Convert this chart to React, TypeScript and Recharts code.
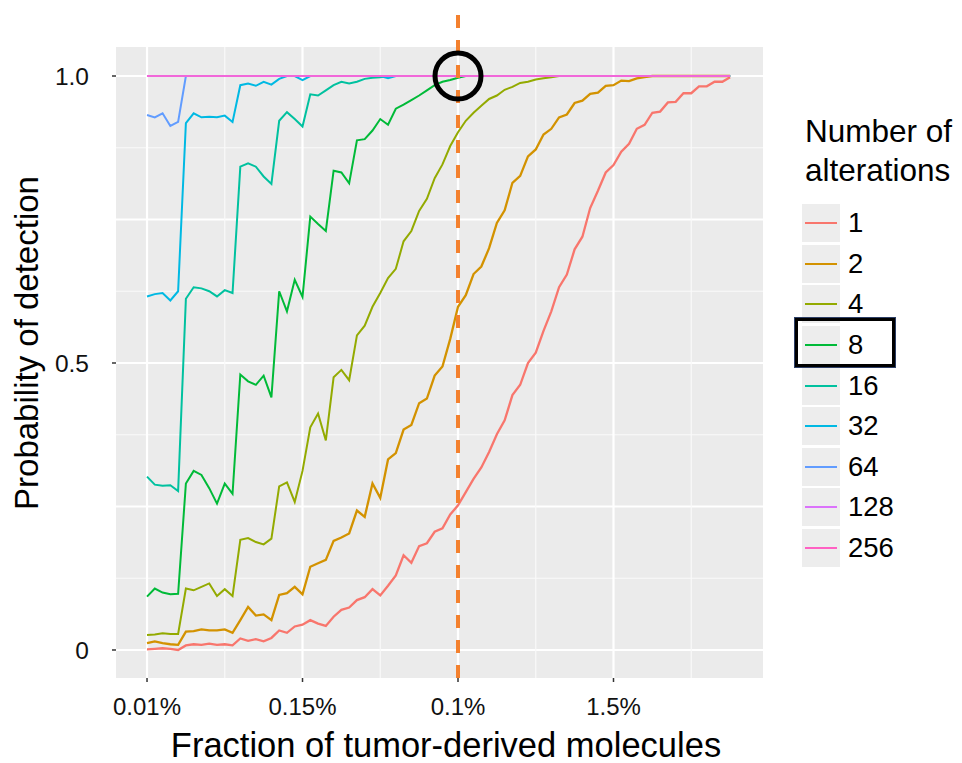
import {
  LineChart,
  Line,
  XAxis,
  YAxis,
  ReferenceLine,
  ReferenceArea,
  ReferenceDot,
} from "recharts";

const FONT = "'Liberation Sans', Arial, Helvetica, sans-serif";

// number of alterations per series, in legend order
const alterations = ["1", "2", "4", "8", "16", "32", "64", "128", "256"];
const palette = ["#F8766D", "#D39200", "#93AA00", "#00BA38", "#00C19F", "#00B9E3", "#619CFF", "#DB72FB", "#FF61C3"];

// x axis: dilution steps, labelled every 20 steps
const xTickSteps = [0, 20, 40, 60];
const xTickLabels = ["0.01%", "0.15%", "0.1%", "1.5%"];
const thresholdStep = 40;

const yTicks = [0, 0.5, 1];
const yTickLabels = ["0", "0.5", "1.0"];

// probability of detection at each step (76 steps)
const p1 = [
  0.001, 0.002, 0.003, 0.002, 0.0, 0.008, 0.01, 0.009, 0.011, 0.009,
  0.01, 0.008, 0.02, 0.016, 0.019, 0.015, 0.021, 0.034, 0.03, 0.041,
  0.044, 0.052, 0.046, 0.042, 0.058, 0.07, 0.074, 0.087, 0.092, 0.106,
  0.095, 0.112, 0.13, 0.165, 0.152, 0.181, 0.186, 0.206, 0.212, 0.236,
  0.252, 0.275, 0.298, 0.318, 0.345, 0.376, 0.4, 0.444, 0.462, 0.5,
  0.518, 0.556, 0.59, 0.632, 0.654, 0.698, 0.72, 0.77, 0.8, 0.832,
  0.845, 0.868, 0.882, 0.908, 0.915, 0.936, 0.938, 0.954, 0.955, 0.97,
  0.97, 0.982, 0.982, 0.99, 0.99, 0.998,
];
const p2 = [
  0.012, 0.015, 0.012, 0.01, 0.009, 0.032, 0.033, 0.036, 0.034, 0.034,
  0.036, 0.03, 0.052, 0.075, 0.06, 0.062, 0.052, 0.096, 0.099, 0.11,
  0.097, 0.145, 0.151, 0.157, 0.19, 0.196, 0.203, 0.243, 0.232, 0.29,
  0.265, 0.332, 0.343, 0.384, 0.392, 0.43, 0.438, 0.478, 0.494, 0.542,
  0.598, 0.618, 0.655, 0.668, 0.7, 0.744, 0.766, 0.814, 0.826, 0.86,
  0.872, 0.898, 0.908, 0.928, 0.933, 0.953, 0.957, 0.969, 0.971, 0.983,
  0.984, 0.992, 0.991, 0.996, 0.998, 1, 1, 1, 1, 1,
  1, 1, 1, 1, 1, 1,
];
const p4 = [
  0.026, 0.027, 0.029, 0.028, 0.028, 0.107, 0.104, 0.11, 0.116, 0.094,
  0.106, 0.094, 0.192, 0.195, 0.188, 0.184, 0.194, 0.285, 0.292, 0.258,
  0.312, 0.388, 0.412, 0.365, 0.475, 0.488, 0.47, 0.548, 0.565, 0.598,
  0.622, 0.648, 0.664, 0.712, 0.73, 0.765, 0.786, 0.822, 0.846, 0.878,
  0.902, 0.922, 0.936, 0.948, 0.96, 0.966, 0.976, 0.981, 0.988, 0.99,
  0.994, 0.996, 0.998, 1, 1, 1, 1, 1, 1, 1,
  1, 1, 1, 1, 1, 1, 1, 1, 1, 1,
  1, 1, 1, 1, 1, 1,
];
const p8 = [
  0.093, 0.107, 0.1, 0.097, 0.098, 0.29, 0.312, 0.305, 0.282, 0.255,
  0.29, 0.272, 0.48, 0.468, 0.462, 0.478, 0.44, 0.625, 0.59, 0.645,
  0.615, 0.755, 0.742, 0.73, 0.835, 0.832, 0.813, 0.888, 0.89, 0.905,
  0.925, 0.915, 0.943, 0.95, 0.958, 0.966, 0.975, 0.984, 0.99, 0.993,
  0.997, 1, 1, 1, 1, 1, 1, 1, 1, 1,
  1, 1, 1, 1, 1, 1, 1, 1, 1, 1,
  1, 1, 1, 1, 1, 1, 1, 1, 1, 1,
  1, 1, 1, 1, 1, 1,
];
const p16 = [
  0.302, 0.288, 0.286, 0.287, 0.277, 0.612, 0.632, 0.63, 0.625, 0.616,
  0.627, 0.622, 0.842, 0.848, 0.842, 0.825, 0.812, 0.922, 0.937, 0.925,
  0.912, 0.968, 0.966, 0.975, 0.984, 0.99, 0.987, 0.99, 0.995, 0.997,
  0.998, 1, 1, 1, 1, 1, 1, 1, 1, 1,
  1, 1, 1, 1, 1, 1, 1, 1, 1, 1,
  1, 1, 1, 1, 1, 1, 1, 1, 1, 1,
  1, 1, 1, 1, 1, 1, 1, 1, 1, 1,
  1, 1, 1, 1, 1, 1,
];
const p32 = [
  0.616, 0.62, 0.622, 0.609, 0.625, 0.918, 0.935, 0.928, 0.929, 0.928,
  0.931, 0.92, 0.984, 0.987, 0.983, 0.99, 0.985, 0.995, 1, 1,
  0.993, 1, 1, 1, 1, 1, 1, 1, 1, 1,
  1, 0.996, 1, 1, 1, 1, 1, 1, 1, 1,
  1, 1, 1, 1, 1, 1, 1, 1, 1, 1,
  1, 1, 1, 1, 1, 1, 1, 1, 1, 1,
  1, 1, 1, 1, 1, 1, 1, 1, 1, 1,
  1, 1, 1, 1, 1, 1,
];
const p64 = [
  0.932, 0.928, 0.935, 0.913, 0.92, 1, 1, 1, 1, 1,
  1, 1, 1, 1, 1, 1, 1, 1, 1, 1,
  1, 1, 1, 1, 1, 1, 1, 1, 1, 1,
  1, 1, 1, 1, 1, 1, 1, 1, 1, 1,
  1, 1, 1, 1, 1, 1, 1, 1, 1, 1,
  1, 1, 1, 1, 1, 1, 1, 1, 1, 1,
  1, 1, 1, 1, 1, 1, 1, 1, 1, 1,
  1, 1, 1, 1, 1, 1,
];
const p128 = [
  1, 1, 1, 1, 1, 1, 1, 1, 1, 1,
  1, 1, 1, 1, 1, 1, 1, 1, 1, 1,
  1, 1, 1, 1, 1, 1, 1, 1, 1, 1,
  1, 1, 1, 1, 1, 1, 1, 1, 1, 1,
  1, 1, 1, 1, 1, 1, 1, 1, 1, 1,
  1, 1, 1, 1, 1, 1, 1, 1, 1, 1,
  1, 1, 1, 1, 1, 1, 1, 1, 1, 1,
  1, 1, 1, 1, 1, 1,
];
const p256 = [
  1, 1, 1, 1, 1, 1, 1, 1, 1, 1,
  1, 1, 1, 1, 1, 1, 1, 1, 1, 1,
  1, 1, 1, 1, 1, 1, 1, 1, 1, 1,
  1, 1, 1, 1, 1, 1, 1, 1, 1, 1,
  1, 1, 1, 1, 1, 1, 1, 1, 1, 1,
  1, 1, 1, 1, 1, 1, 1, 1, 1, 1,
  1, 1, 1, 1, 1, 1, 1, 1, 1, 1,
  1, 1, 1, 1, 1, 1,
];

const seriesValues = [p1, p2, p4, p8, p16, p32, p64, p128, p256];

const rows = p1.map((_, i) => {
  const row: Record<string, number> = { step: i };
  alterations.forEach((a, k) => {
    row["n" + a] = seriesValues[k][i];
  });
  return row;
});

// ggplot-like panel
const X_MIN = -3.99;
const X_MAX = 79.23;
const Y_MIN = -0.0488;
const Y_MAX = 1.115;
const PANEL_TOP = 1.0505;
const majorX = [0, 20, 40, 60];
const minorX = [10, 30, 50, 70];
const majorY = [0, 0.25, 0.5, 0.75, 1];
const minorY = [0.125, 0.375, 0.625, 0.875];

function XTick(props: any) {
  const { x, y, payload } = props;
  return (
    <text x={x} y={y + 31} textAnchor="middle" fontFamily={FONT} fontSize={24} fill="#111">
      {xTickLabels[xTickSteps.indexOf(payload.value)]}
    </text>
  );
}

function YTick(props: any) {
  const { x, y, payload } = props;
  return (
    <text x={x - 21} y={y + 9} textAnchor="end" fontFamily={FONT} fontSize={24.5} fill="#111">
      {yTickLabels[yTicks.indexOf(payload.value)]}
    </text>
  );
}

function LegendBox() {
  return (
    <div style={{ position: "absolute", left: 802, top: 112, width: 160, fontFamily: FONT, color: "#000" }}>
      <div style={{ fontSize: 31.5, lineHeight: "39px", marginLeft: 3 }}>
        Number of
        <br />
        alterations
      </div>
      <div style={{ marginTop: 13 }}>
        {alterations.map((a, k) => (
          <div key={a} style={{ display: "flex", alignItems: "center", height: 40.6 }}>
            <div
              style={{
                width: 38,
                height: 38,
                background: "#EDEDED",
                display: "flex",
                alignItems: "center",
                justifyContent: "center",
              }}
            >
              <div style={{ width: 32, height: 2, background: palette[k] }} />
            </div>
            <span style={{ fontSize: 27.5, marginLeft: 8 }}>{a}</span>
          </div>
        ))}
      </div>
      {/* highlight on the 8-alteration key */}
      <div
        style={{
          position: "absolute",
          left: -7,
          top: 206,
          width: 94,
          height: 43,
          border: "3.5px solid #000",
          outline: "1px solid #2C3E66",
        }}
      />
    </div>
  );
}

export default function App() {
  return (
    <div style={{ position: "absolute", left: 0, top: 0, width: 962, height: 763, background: "#fff" }}>
      <LineChart
        width={962}
        height={763}
        data={rows}
        margin={{ top: 10, right: 199, bottom: 25, left: 56 }}
      >
        <ReferenceArea x1={X_MIN} x2={X_MAX} y1={Y_MIN} y2={PANEL_TOP} fill="#EBEBEB" fillOpacity={1} stroke="none" />
        {minorY.map((v) => (
          <ReferenceLine key={"my" + v} y={v} stroke="#FAFAFA" strokeWidth={1.2} />
        ))}
        {majorY.map((v) => (
          <ReferenceLine key={"My" + v} y={v} stroke="#FFFFFF" strokeWidth={2.2} />
        ))}
        {minorX.map((v) => (
          <ReferenceLine
            key={"mx" + v}
            segment={[{ x: v, y: Y_MIN }, { x: v, y: PANEL_TOP }]}
            stroke="#FAFAFA"
            strokeWidth={1.2}
          />
        ))}
        {majorX.map((v) => (
          <ReferenceLine
            key={"Mx" + v}
            segment={[{ x: v, y: Y_MIN }, { x: v, y: PANEL_TOP }]}
            stroke="#FFFFFF"
            strokeWidth={2.2}
          />
        ))}
        <XAxis
          dataKey="step"
          type="number"
          domain={[X_MIN, X_MAX]}
          allowDataOverflow
          ticks={xTickSteps}
          axisLine={false}
          tickLine={{ stroke: "#333", strokeWidth: 1.5 }}
          tickSize={4}
          height={60}
          tick={<XTick />}
        />
        <YAxis
          type="number"
          domain={[Y_MIN, Y_MAX]}
          allowDataOverflow
          ticks={yTicks}
          axisLine={false}
          tickLine={{ stroke: "#333", strokeWidth: 1.5 }}
          tickSize={4}
          width={60}
          tick={<YTick />}
        />
        {alterations.map((a, k) => (
          <Line
            key={a}
            dataKey={"n" + a}
            name={a}
            stroke={palette[k]}
            strokeWidth={k < 2 ? 2.3 : 2}
            strokeOpacity={a === "256" ? 0.6 : 1}
            dot={false}
            type="linear"
            isAnimationActive={false}
          />
        ))}
        <ReferenceLine x={thresholdStep} stroke="#F4812E" strokeWidth={4} strokeDasharray="13 12" />
        <ReferenceDot x={thresholdStep} y={1} r={23} fill="none" stroke="#000" strokeWidth={5} />
      </LineChart>
      <LegendBox />
      <div
        style={{
          position: "absolute",
          left: 446,
          top: 745,
          transform: "translate(-50%, -50%)",
          fontFamily: FONT,
          fontSize: 34.5,
          whiteSpace: "nowrap",
          color: "#000",
        }}
      >
        Fraction of tumor-derived molecules
      </div>
      <div
        style={{
          position: "absolute",
          left: 27,
          top: 343,
          transform: "translate(-50%, -50%) rotate(-90deg)",
          fontFamily: FONT,
          fontSize: 33,
          whiteSpace: "nowrap",
          color: "#000",
        }}
      >
        Probability of detection
      </div>
    </div>
  );
}
